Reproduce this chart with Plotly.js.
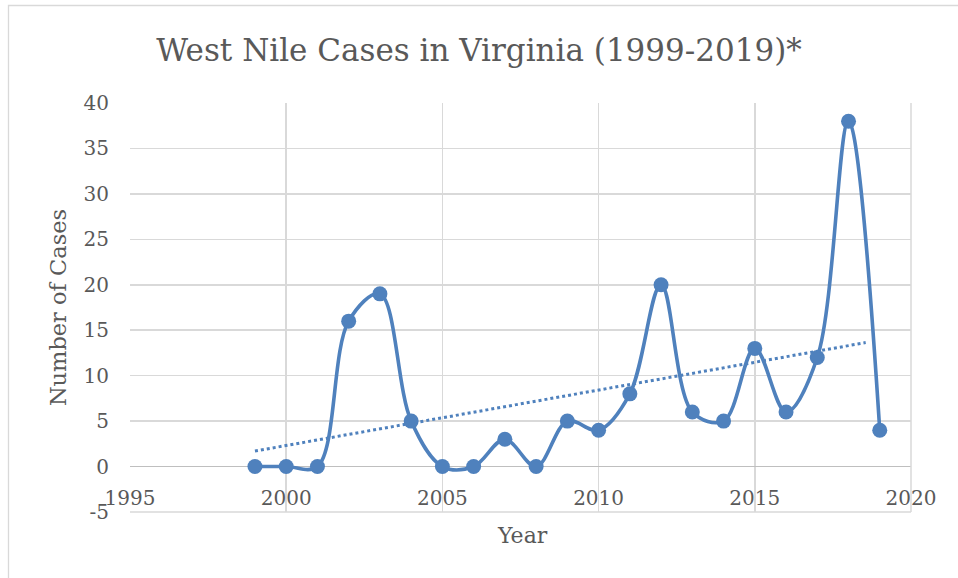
<!DOCTYPE html>
<html>
<head>
<meta charset="utf-8">
<script src="https://cdn.plot.ly/plotly-3.0.1.min.js"></script>
<style>html,body{margin:0;padding:0;background:#fff;}#chart{width:958px;height:578px;}</style>
</head>
<body>
<div id="chart"></div>
<script>
const years = [1999,2000,2001,2002,2003,2004,2005,2006,2007,2008,2009,2010,2011,2012,2013,2014,2015,2016,2017,2018,2019];
const cases = [0,0,0,16,19,5,0,0,3,0,5,4,8,20,6,5,13,6,12,38,4];
const xTicks = [1995,2000,2005,2010,2015,2020];
const yTicks = [-5,0,5,10,15,20,25,30,35,40];

const FONT = "DejaVu Serif";
const TXT = "#595959";
const BLUE = "#4F81BD";

// linear trendline (least squares) from the data
const n = years.length;
const mx = years.reduce((a,b)=>a+b,0)/n;
const my = cases.reduce((a,b)=>a+b,0)/n;
let sxy=0, sxx=0;
for(let i=0;i<n;i++){ sxy += (years[i]-mx)*(cases[i]-my); sxx += (years[i]-mx)**2; }
const slope = sxy/sxx, icpt = my - slope*mx;
const tx = [years[0], years[n-1]-0.45];
const ty = tx.map(x=>icpt+slope*x);

// plot area geometry
const L=130, R=911, T=103, B=512, W=958, H=578;
const pw=R-L, ph=B-T;
const px = v => (v-L)/pw;
const py = v => (B-v)/ph;

const traces = [
  {x: years, y: cases, type:'scatter', mode:'lines+markers',
   line:{color:BLUE, width:3.6, shape:'spline', smoothing:1},
   marker:{color:BLUE, size:15}, hoverinfo:'x+y', showlegend:false},
  {x: tx, y: ty, type:'scatter', mode:'lines',
   line:{color:BLUE, width:3, dash:'dot'}, showlegend:false}
];

const layout = {
  width:W, height:H,
  margin:{l:L, r:W-R, t:T, b:H-B, pad:0},
  paper_bgcolor:'#fff', plot_bgcolor:'#fff',
  font:{family:FONT, color:TXT, size:19},
  title:{text:'West Nile Cases in Virginia (1999-2019)*', font:{family:FONT, size:31, color:TXT},
         x:0.5, xanchor:'center', y:1-50/H, yanchor:'middle'},
  xaxis:{range:[1995,2020], tickvals:xTicks, ticktext:xTicks.map(String),
         showgrid:true, gridcolor:'#d9d9d9', gridwidth:1.5, zeroline:false,
         showline:false, ticks:'', anchor:'free', position:5/45, ticklabelstandoff:17,
         tickfont:{family:FONT, size:20, color:TXT}, fixedrange:true},
  yaxis:{range:[-5,40], tickvals:yTicks, ticktext:yTicks.map(String),
         showgrid:true, gridcolor:'#d9d9d9', gridwidth:1.5,
         zeroline:true, zerolinecolor:'#bfbfbf', zerolinewidth:1.8,
         showline:false, ticks:'', ticklabelstandoff:20,
         tickfont:{family:FONT, size:20, color:TXT},
         title:{text:'Number of Cases', font:{family:FONT, size:22.5, color:TXT}, standoff:10},
         fixedrange:true},
  annotations:[
    {text:'Year', xref:'paper', yref:'paper', x:px(522), y:py(535), xanchor:'center', yanchor:'middle',
     showarrow:false, font:{family:FONT, size:22, color:TXT}}
  ],
  shapes:[
    {type:'rect', xref:'paper', yref:'paper', x0:px(8.5), x1:px(962), y0:py(5.5), y1:py(590),
     line:{color:'#d9d9d9', width:1.3}, fillcolor:'rgba(0,0,0,0)', layer:'below'},
    {type:'line', xref:'paper', yref:'paper', x0:1, x1:1, y0:0, y1:1, line:{color:'#d9d9d9', width:1.5}},
    {type:'line', xref:'paper', yref:'paper', x0:0, x1:1, y0:0, y1:0, line:{color:'#d9d9d9', width:1.5}}
  ]
};

Plotly.newPlot('chart', traces, layout, {displayModeBar:false, staticPlot:true});
</script>
</body>
</html>
